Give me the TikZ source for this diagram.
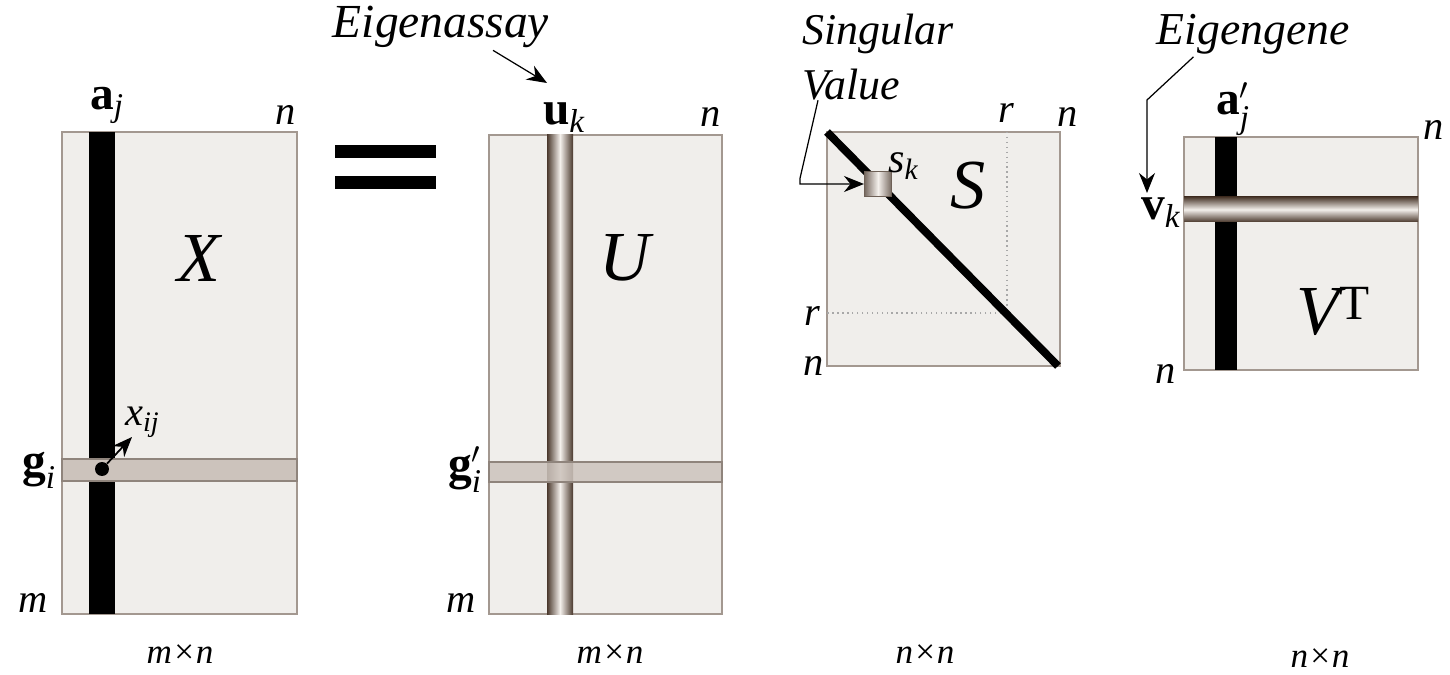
\documentclass[tikz,border=0pt]{standalone}
\usepackage{amsmath}
\usepackage{fontspec}
\setmainfont{Liberation Serif}
\usetikzlibrary{positioning,arrows.meta,calc}
\definecolor{matF}{HTML}{F0EEEB}
\definecolor{matE}{HTML}{A39890}
\definecolor{barF}{HTML}{CCC3BC}
\definecolor{barE}{HTML}{8F847C}
\definecolor{stripeD}{HTML}{4A382C}
\definecolor{stripeL}{HTML}{F4F0EC}
\definecolor{dotG}{HTML}{A8A8A8}

\begin{document}
\begin{tikzpicture}[
    x=0.02cm, y=-0.02cm,
    >={Stealth[length=4mm,width=3.2mm]},
    mat/.style={draw=matE,fill=matF,line width=0.8pt},
    bar/.style={draw=barE,fill=barF,line width=0.7pt},
    lbl/.style={font=\fontsize{23}{26}\selectfont\itshape,inner sep=1pt},
    dimlbl/.style={font=\fontsize{20}{24}\selectfont\itshape,inner sep=1pt},
    vec/.style={font=\fontsize{27}{30}\selectfont,inner sep=1pt},
    big/.style={font=\fontsize{40}{44}\selectfont\itshape,inner sep=0pt},
    note/.style={font=\fontsize{25}{31}\selectfont\itshape,inner sep=0pt,align=left},
    call/.style={->,line width=0.7pt},
]

% page
\fill[white] (0,0) rectangle (1450,675);

% =====================================================================
%  X  (m x n data)
% =====================================================================
\draw[mat] (62,132) rectangle (297,614);
\fill[black] (89,132) rectangle (115,614);
\draw[bar] (62,459) rectangle (297,481);
\node[circle,fill=black,minimum size=2.8mm,inner sep=0pt] (xdot) at (102,469) {};

\node[big] (xname) at (199,258) {X};
\node[vec,anchor=base west] (aj) at (88,110) {\textbf{a}\textsubscript{\textit{j}}};
\node[lbl,anchor=base east] (nx) at (298,125) {n};
\node[lbl,anchor=base east] (mx) at (50,612) {m};
\node[vec,anchor=east] (gi) at (58,470) {$\textbf{g}_{\textit{i}}$};
\node[lbl,anchor=base west] (xij) at (123,425) {x\textsubscript{ij}};
\coordinate (xtip) at (132,437);
\draw[call,line width=1pt] (xdot) -- (xtip);
\node[dimlbl,anchor=base] (xdim) at (180,663) {m×n};

% equals sign
\fill[black] (335,145) rectangle (436,158);
\fill[black] (335,176) rectangle (436,189);

% =====================================================================
%  U  (eigenassays)
% =====================================================================
\draw[mat] (489,135) rectangle (722,614);
\shade[left color=stripeD,right color=stripeD,middle color=stripeL]
    (547,135) rectangle (573,614);
\draw[bar,fill opacity=0.85] (489,462) rectangle (722,482);

\node[big] (uname) at (625,258) {U};
\node[vec,anchor=base west] (uk) at (541,125) {\textbf{u}\textsubscript{\textit{k}}};
\node[lbl,anchor=base east] (nu) at (723,127) {n};
\node[lbl,anchor=base east] (mu) at (478,612) {m};
\node[vec,anchor=east] (gpi) at (484,470) {$\textbf{g}'_{\textit{i}}$};
\node[dimlbl,anchor=base] (udim) at (610,663) {m×n};

\node[lbl,font=\fontsize{27}{30}\selectfont\itshape,anchor=base] (eassay) at (441,38) {Eigenassay};
\coordinate (utip) at (547,83);
\draw[call] ($(eassay.south)+(52,0)$) -- (utip);

% =====================================================================
%  S  (singular values)
% =====================================================================
\draw[mat] (827,132) rectangle (1060,366);
\draw[dotted,draw=dotG,line width=0.8pt] (1007,132) -- (1007,313) -- (827,313);
\draw[line width=4.5pt] (827,132) -- (1058,366);
\node[draw=stripeD!80,line width=0.6pt,left color=stripeD!75,right color=stripeD!75,
      middle color=stripeL,minimum width=0.54cm,minimum height=0.5cm,inner sep=0pt]
     (skbox) at (878,184) {};

\node[lbl,font=\fontsize{24}{28}\selectfont\itshape,anchor=base west] (sk) at (886,173) {s\textsubscript{k}};
\node[big] (sname) at (968,186) {S};
\node[lbl,anchor=base] (rtop) at (1006,123) {r};
\node[lbl,anchor=base west] (ntop) at (1055,127) {n};
\node[lbl,anchor=east] (rleft) at (822,316) {r};
\node[lbl,anchor=east] (nleft) at (826,366) {n};
\node[dimlbl,anchor=base] (sdim) at (925,663) {n×n};

\node[note,anchor=north west] (sv) at (802,14) {Singular\\Value};
\draw[call] ($(sv.south west)+(16,0)$) -- ++(-18,78) |- (skbox.west);

% =====================================================================
%  V^T  (eigengenes)
% =====================================================================
\draw[mat] (1184,137) rectangle (1418,370);
\fill[black] (1215,137) rectangle (1237,370);
\shade[top color=stripeD,bottom color=stripeD,middle color=stripeL]
    (1184,197) rectangle (1418,222);

\node[big,anchor=base west] (vname) at (1296,335) {V\textsuperscript{\textup{T}}};
\node[vec,anchor=base west] (ajp) at (1214,115) {$\textbf{a}'_{\textit{j}}$};
\node[lbl,anchor=base west] (nv) at (1421,140) {n};
\node[vec,anchor=base east] (vk) at (1183,220) {\textbf{v}\textsubscript{\textit{k}}};
\node[lbl,anchor=base east] (nvl) at (1178,383) {n};
\node[dimlbl,anchor=base] (vdim) at (1320,667) {n×n};

\node[lbl,font=\fontsize{26}{30}\selectfont\itshape,anchor=base] (eigene) at (1253,45) {Eigengene};
\coordinate (vtip) at (1147,193);
\draw[call] ($(eigene.south west)+(39,0)$) -- (1147,100) -- (vtip);

\end{tikzpicture}
\end{document}
